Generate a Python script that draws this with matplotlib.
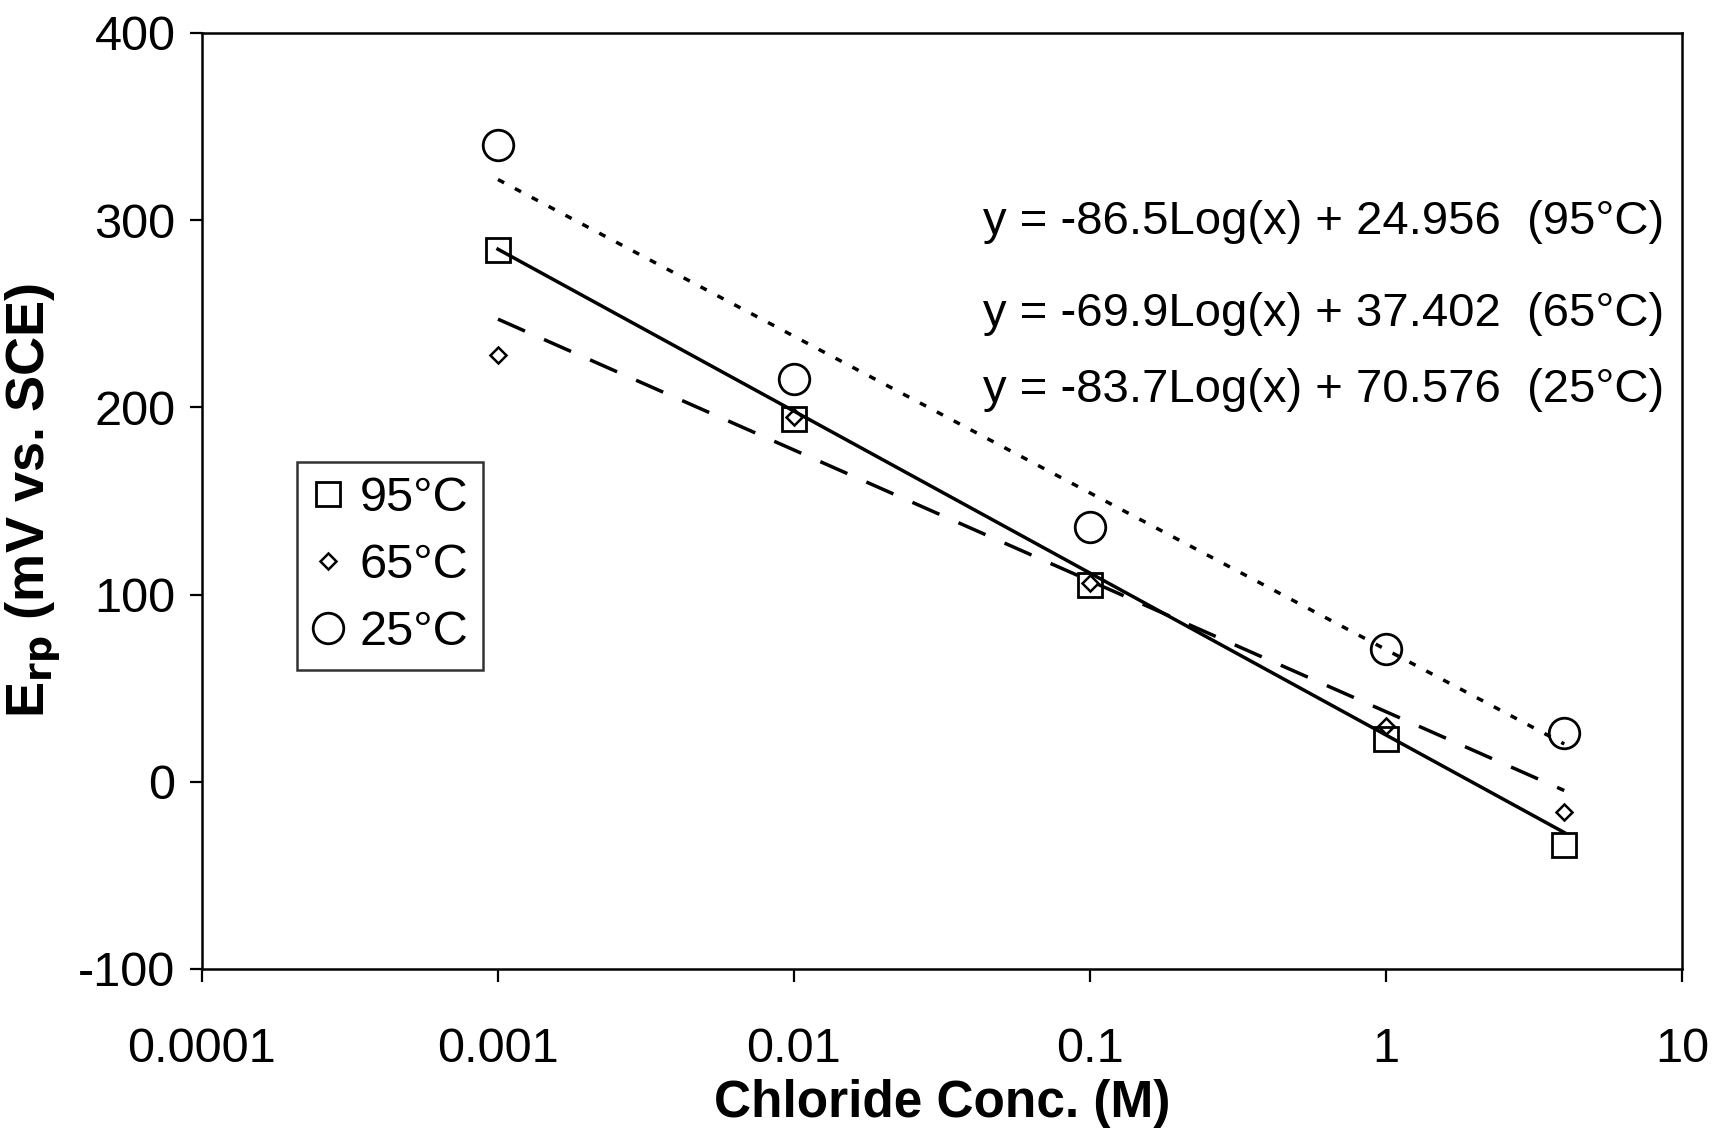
import numpy as np
import matplotlib
matplotlib.use("Agg")
import matplotlib.pyplot as plt

plt.rcParams['font.family'] = ['Liberation Sans', 'DejaVu Sans']
plt.rcParams['axes.unicode_minus'] = False

conc = [0.001, 0.01, 0.1, 1, 4]
e95 = [284, 194, 105, 23, -34]
e65 = [228, 195, 106, 30, -16]
e25 = [340, 215, 136, 71, 26]

labels = ['95°C', '65°C', '25°C']
slopes = [-86.5, -69.9, -83.7]
intercepts = [24.956, 37.402, 70.576]
eq_texts = ['y = -86.5Log(x) + 24.956  (95°C)',
            'y = -69.9Log(x) + 37.402  (65°C)',
            'y = -83.7Log(x) + 70.576  (25°C)']

xticks = [0.0001, 0.001, 0.01, 0.1, 1, 10]
xticklabels = ['0.0001', '0.001', '0.01', '0.1', '1', '10']
yticks = [-100, 0, 100, 200, 300, 400]

fig = plt.figure(figsize=(17.16, 11.35), dpi=100)
ax = fig.add_axes([0.1177, 0.1463, 0.8625, 0.8247])

# trendlines
fit_x = np.array([conc[0], conc[-1]])
styles = [dict(ls='-'), dict(ls=(0, (8.5, 6))), dict(ls=(0, (2, 3.5)))]
for a, b, st in zip(slopes, intercepts, styles):
    ax.plot(fit_x, a * np.log10(fit_x) + b, color='black', lw=2.5, **st)

h1, = ax.plot(conc, e95, ls='none', marker='s', ms=17, mfc='none', mec='black', mew=2.0, label=labels[0])
h2, = ax.plot(conc, e65, ls='none', marker='D', ms=8.5, mfc='none', mec='black', mew=1.8, label=labels[1])
h3, = ax.plot(conc, e25, ls='none', marker='o', ms=22, mfc='none', mec='black', mew=2.0, label=labels[2])

ax.set_xscale('log')
ax.set_xlim(0.0001, 10)
ax.set_ylim(-100, 400)
ax.set_xticks(xticks)
ax.set_xticklabels(xticklabels)
ax.minorticks_off()
ax.set_yticks(yticks)
ax.tick_params(axis='both', direction='out', length=9, width=1.6, labelsize=35, color='black')
ax.tick_params(axis='x', pad=33)
ax.tick_params(axis='y', pad=10)
for s in ax.spines.values():
    s.set_linewidth(1.8)

ax.set_xlabel('Chloride Conc. (M)', fontsize=37, fontweight='bold', labelpad=5)
ax.set_ylabel(r'E$_{\mathbf{rp}}$ (mV vs. SCE)', fontsize=39, fontweight='bold', labelpad=10)

eq_y = [0.798, 0.700, 0.618]
for t, yy in zip(eq_texts, eq_y):
    ax.text(0.988, yy, t, transform=ax.transAxes, ha='right', va='center', fontsize=34)

leg = ax.legend(handles=[h1, h2, h3], loc='upper left', bbox_to_anchor=(0.064, 0.542),
                fontsize=35, frameon=True, fancybox=False, edgecolor='black',
                handlelength=0.7, handletextpad=0.3, borderpad=0.3, labelspacing=0.45,
                borderaxespad=0)
leg.get_frame().set_linewidth(1.8)

fig.savefig('out.png', dpi=100, facecolor='white')
